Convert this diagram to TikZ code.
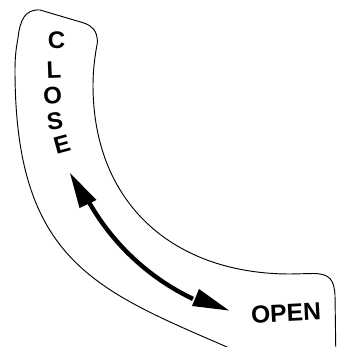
\documentclass[tikz,border=0pt]{standalone}
\usepackage{fontspec}
\setmainfont{Liberation Sans}
\begin{document}
\begin{tikzpicture}[x=0.75pt,y=-0.75pt,
  outline/.style={draw=black,line width=0.7pt,fill=white},
  lbl/.style={font=\fontsize{18}{20}\selectfont\bfseries,inner sep=0pt},
  shaft/.style={line width=3.3pt},
  head/.style={fill=black,draw=none}]
\useasboundingbox (0,0) rectangle (337,347);
\fill[white] (0,0) rectangle (337,347);
\begin{scope}
\clip (0,0) rectangle (337,347);
\draw[outline] (97.5,42) .. controls (95,55) and (93,70) .. (93,85)
  .. controls (93,205) and (175,274) .. (290,274) -- (313,273.5)
  .. controls (330,273.5) and (334,280) .. (335,295) -- (336,365) -- (250,365) -- (250,357)
  .. controls (103.6,292.5) and (15,270) .. (15,70)
  .. controls (15,55) and (16.5,46) .. (18,38)
  .. controls (20,20) and (25,9) .. (40,10) -- (84,23) .. controls (92,26) and (97,30) .. (97.5,42) -- cycle;
\end{scope}
% arrow
\coordinate (ctr) at (295,85);
\draw[shaft] ([shift={(151:237)}]ctr) arc[start angle=151, end angle=115.5, radius=237];
\fill[head] (70,173) -- (79.5,208) -- (96.5,200) -- cycle;
\fill[head] (229,310.5) -- (199,289) -- (192,306) -- cycle;
% labels
\node[lbl] (c) at (56.5,40) {C};
\node[lbl,rotate=2] (l) at (54,70) {L};
\node[lbl,rotate=4] (o) at (52.5,96) {O};
\node[lbl,rotate=8] (s) at (55,121) {S};
\node[lbl,rotate=15] (e) at (62,144) {E};
\node[lbl,rotate=3,font=\fontsize{18.5}{20}\selectfont\bfseries] (open) at (286,313) {OPEN};
\end{tikzpicture}
\end{document}
